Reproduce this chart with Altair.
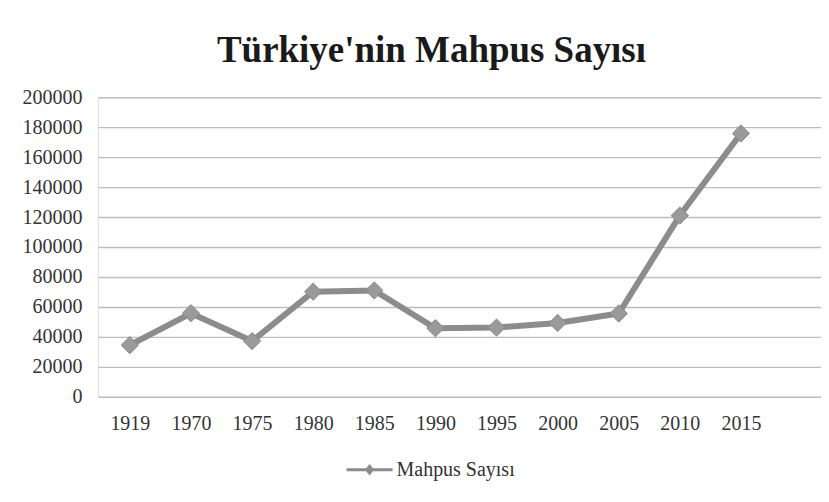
import altair as alt
import pandas as pd

years = ["1919", "1970", "1975", "1980", "1985", "1990", "1995", "2000", "2005", "2010", "2015"]
prisoners = [34500, 55800, 37200, 70200, 71000, 45800, 46200, 49300, 55600, 121000, 175800]
series_name = "Mahpus Sayısı"
title_text = "Türkiye'nin Mahpus Sayısı"

df = pd.DataFrame({"year": years, "value": prisoners})
df["idx"] = range(len(years))
df["series"] = series_name

label_expr = "[" + ",".join("'" + y + "'" for y in years) + "][datum.value]"

x = alt.X("idx:Q",
          scale=alt.Scale(domain=[-0.523, 11.31], nice=False, zero=False),
          axis=alt.Axis(values=list(range(len(years))), labelExpr=label_expr, title=None,
                        grid=False, ticks=False, domain=False, labelPadding=17,
                        labelFont="Liberation Serif", labelFontSize=20, labelColor="#333333"))
y = alt.Y("value:Q",
          scale=alt.Scale(domain=[0, 200000], nice=False),
          axis=alt.Axis(values=list(range(0, 200001, 20000)), format="d", title=None,
                        ticks=False, domain=False,
                        labelPadding=16, labelFont="Liberation Serif", labelFontSize=20,
                        labelColor="#333333", gridColor="#bdbdbd", gridWidth=1.4))

legend_symbol = ("M-2.5,-0.17L2.5,-0.17L2.5,0.17L-2.5,0.17Z"
                 "M0,-0.62L0.5,0L0,0.62L-0.5,0Z")

color = alt.Color("series:N",
                  scale=alt.Scale(range=["#8c8c8c"]),
                  legend=alt.Legend(title=None, orient="none", legendX=262, legendY=363,
                                    symbolType=legend_symbol, symbolSize=340,
                                    symbolStrokeWidth=0, symbolFillColor="#8c8c8c",
                                    labelFont="Liberation Serif", labelFontSize=20,
                                    labelColor="#333333", labelOffset=17))

base = alt.Chart(df).encode(x=x, y=y)
line = base.mark_line(strokeWidth=6, color="#8c8c8c").encode(color=color)
points = base.mark_point(shape="diamond", size=300, filled=True, color="#9a9a9a",
                         opacity=1, stroke="#8a8a8a", strokeWidth=1)

chart = (line + points).properties(
    width=724, height=300,
    title=alt.TitleParams(title_text, font="Liberation Serif", fontSize=37, fontWeight="bold",
                          color="#1a1a1a", anchor="middle", frame="group", baseline="alphabetic",
                          offset=34, dx=-28, dy=46),
    autosize=alt.AutoSizeParams(type="none"),
    padding={"left": 90, "top": 89, "right": 0, "bottom": 97},
).configure_view(stroke=None).configure(background="white")

chart.save("out.html", embed_options={"renderer": "svg", "actions": False})
